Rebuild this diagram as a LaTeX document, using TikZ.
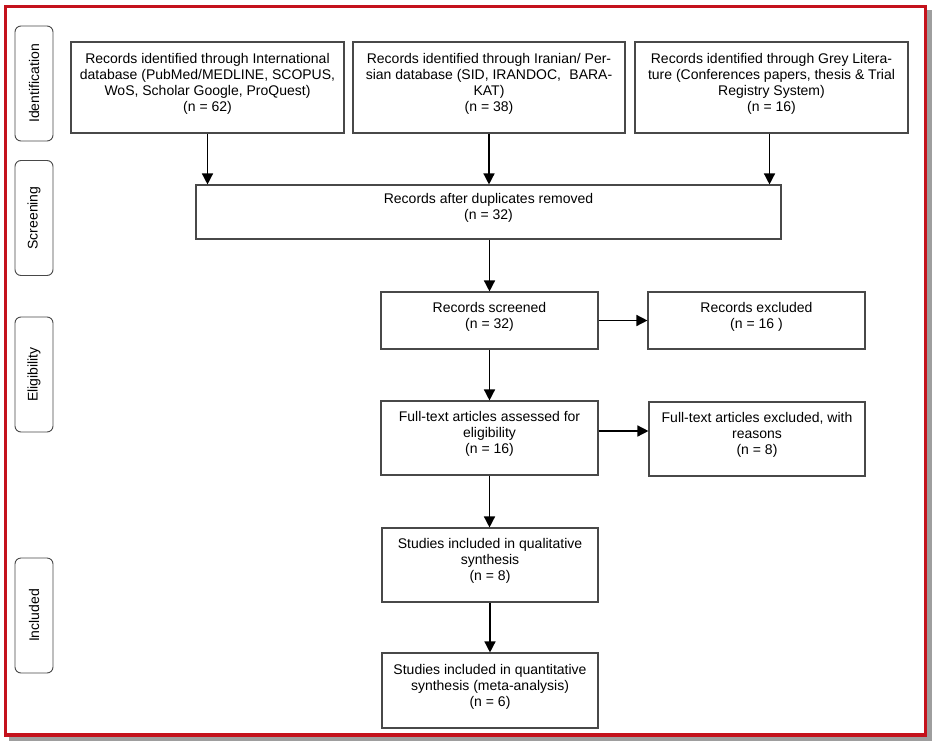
\documentclass[tikz,border=0pt]{standalone}
\usepackage{fontspec}
\setmainfont[Ligatures=NoCommon]{Liberation Sans}
\usetikzlibrary{arrows.meta,calc}
\definecolor{framered}{RGB}{196,18,28}
\definecolor{shadowc}{RGB}{158,158,158}
\definecolor{boxc}{RGB}{72,72,72}
\begin{document}
\begin{tikzpicture}[x=1pt,y=-1pt,
  box/.style={draw=boxc, line width=1.1pt, inner sep=0pt, fill=white},
  txt/.style={align=center, inner sep=0pt, font=\fontsize{14}{16}\selectfont, text=black},
  phase/.style={draw=boxc, line width=0.9pt, rounded corners=6pt, inner sep=0pt,
                minimum width=38pt, minimum height=115pt},
  phasetxt/.style={rotate=90, inner sep=0pt, font=\fontsize{14}{16}\selectfont},
  arr/.style={line width=1.4pt, -{Triangle[length=11pt,width=11pt]}}]
\useasboundingbox (0,0) rectangle (937,747);
% frame with drop shadow
\fill[shadowc] (9,10) rectangle (931.5,741);
\draw[framered, fill=white, line width=3.6pt] (5.5,6.5) rectangle (925.5,735);

% phase labels
\node[phase] (pid) at (34,83.5) {};
\node[phasetxt] (tid) at (pid.center) {Identification};
\node[phase] (pscr) at (34,218) {};
\node[phasetxt] (tscr) at (pscr.center) {Screening};
\node[phase] (pel) at (34,374.5) {};
\node[phasetxt] (tel) at (pel.center) {Eligibility};
\node[phase] (pin) at (34,615.5) {};
\node[phasetxt] (tin) at (pin.center) {Included};

% boxes
\node[box, minimum width=273pt, minimum height=91pt] (b1) at (207.5,87.5) {};
\node[txt] (t1) at ([yshift=4pt]b1.center) {Records identified through International\\database (PubMed/MEDLINE, SCOPUS,\\WoS, Scholar Google, ProQuest)\\(n = 62)};
\node[box, minimum width=272pt, minimum height=91pt] (b2) at (489,87.5) {};
\node[txt] (t2) at ([yshift=4pt]b2.center) {Records identified through Iranian/ Per-\\sian database (SID, IRANDOC,\hspace{0.6em}BARA-\\KAT)\\(n = 38)};
\node[box, minimum width=273pt, minimum height=91pt] (b3) at (771.5,87.5) {};
\node[txt] (t3) at ([yshift=4pt]b3.center) {Records identified through Grey Litera-\\ture (Conferences papers, thesis \& Trial\\Registry System)\\(n = 16)};

\node[box, minimum width=585pt, minimum height=54pt] (dup) at (488.5,212) {};
\node[txt] (tdup) at ([yshift=4pt]dup.center) {Records after duplicates removed\\(n = 32)};

\node[box, minimum width=217pt, minimum height=57pt] (scr) at (489.5,320.5) {};
\node[txt] (tscrb) at ([yshift=4pt]scr.center) {Records screened\\(n = 32)};
\node[box, minimum width=217pt, minimum height=57pt] (exc) at (756.5,320.5) {};
\node[txt] (texc) at ([yshift=4pt]exc.center) {Records excluded\\(n = 16 )};

\node[box, minimum width=217pt, minimum height=74pt] (ft) at (489.5,438) {};
\node[txt] (tft) at ([yshift=4pt]ft.center) {Full-text articles assessed for\\eligibility\\(n = 16)};
\node[box, minimum width=216pt, minimum height=74pt] (ftex) at (757,439) {};
\node[txt] (tftex) at ([yshift=4pt]ftex.center) {Full-text articles excluded, with\\reasons\\(n = 8)};

\node[box, minimum width=216pt, minimum height=74pt] (qual) at (490,565) {};
\node[txt] (tqual) at ([yshift=4pt]qual.center) {Studies included in qualitative\\synthesis\\(n = 8)};
\node[box, minimum width=216pt, minimum height=75pt] (quan) at (490,690.5) {};
\node[txt] (tquan) at ([yshift=4pt]quan.center) {Studies included in quantitative\\synthesis (meta-analysis)\\(n = 6)};

% connectors
\draw[arr] (b1.south) -- (b1.south |- dup.north);
\draw[arr] (b2.south) -- (b2.south |- dup.north);
\draw[arr] ([xshift=-2pt]b3.south) -- ([xshift=-2pt]b3.south |- dup.north);
\draw[arr] (dup.south -| scr.north) -- (scr.north);
\draw[arr] (scr.south) -- (ft.north);
\draw[arr] (ft.south) -- (ft.south |- qual.north);
\draw[arr] (qual.south) -- (qual.south |- quan.north);
\draw[arr] (scr.east) -- (scr.east -| exc.west);
\draw[arr] ([yshift=7pt]ft.east) -- ([yshift=7pt]ft.east -| ftex.west);
\end{tikzpicture}
\end{document}
